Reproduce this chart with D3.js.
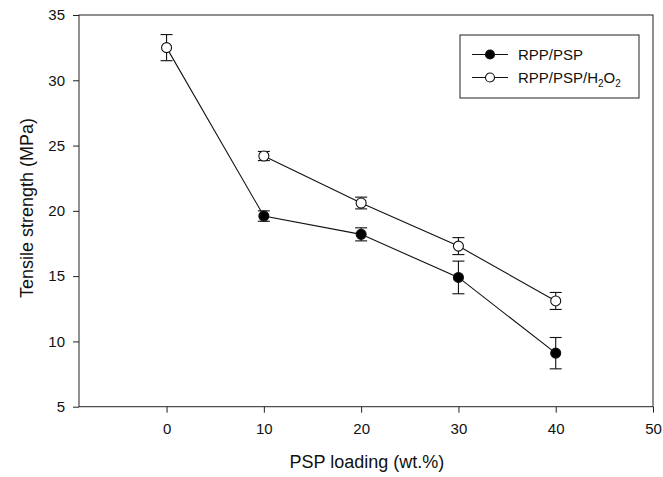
<!DOCTYPE html>
<html>
<head>
<meta charset="utf-8">
<script src="https://cdn.jsdelivr.net/npm/d3@7"></script>
<style>
  body { margin: 0; background: #fff; }
  svg text { font-family: "Liberation Sans", Arial, sans-serif; fill: #111; }
</style>
</head>
<body>
<svg id="chart" width="663" height="477"></svg>
<script>
// data
const loading = [0, 10, 20, 30, 40];
const rppPsp = [32.5, 19.6, 18.2, 14.9, 9.1];
const rppPspErr = [1.0, 0.4, 0.5, 1.25, 1.2];
// treated series starts at 10 wt.%, the 0 wt.% control is shared
const loadingH2O2 = [10, 20, 30, 40];
const rppPspH2O2 = [24.2, 20.6, 17.3, 13.1];
const rppPspH2O2Err = [0.35, 0.45, 0.65, 0.65];
const xTicks = [0, 10, 20, 30, 40, 50];
const yTicks = [5, 10, 15, 20, 25, 30, 35];

const margin = { top: 15, right: 10, bottom: 70, left: 79 };
const width = 663;
const height = 477;
const innerWidth = width - margin.left - margin.right;
const innerHeight = 406.7 - margin.top;

const xScale = d3.scaleLinear().domain([-9, 50]).range([0, innerWidth]);
const yScale = d3.scaleLinear().domain([5, 35]).range([innerHeight, 0]);

const svg = d3.select("#chart");
const g = svg.append("g").attr("transform", `translate(${margin.left},${margin.top})`);

// frame
g.append("rect")
  .attr("width", innerWidth)
  .attr("height", innerHeight)
  .attr("fill", "none")
  .attr("stroke", "#222")
  .attr("stroke-width", 1);

// X axis
const xAxis = g.append("g")
  .attr("transform", `translate(0,${innerHeight})`)
  .call(d3.axisBottom(xScale).tickValues(xTicks).tickSize(6).tickPadding(11).tickSizeOuter(0));
xAxis.select(".domain").remove();
xAxis.selectAll("line").attr("stroke", "#222");
xAxis.selectAll("text").attr("font-size", "15px");

// Y axis
const yAxis = g.append("g")
  .call(d3.axisLeft(yScale).tickValues(yTicks).tickSize(6).tickPadding(8).tickSizeOuter(0));
yAxis.select(".domain").remove();
yAxis.selectAll("line").attr("stroke", "#222");
yAxis.selectAll("text").attr("font-size", "15px");

// axis labels
g.append("text")
  .attr("x", xScale(20.6))
  .attr("y", innerHeight + 61)
  .attr("text-anchor", "middle")
  .attr("font-size", "18px")
  .text("PSP loading (wt.%)");

g.append("text")
  .attr("transform", "rotate(-90)")
  .attr("x", -193)
  .attr("y", -46)
  .attr("text-anchor", "middle")
  .attr("font-size", "18px")
  .text("Tensile strength (MPa)");

const line = d3.line()
  .x((d) => xScale(d.x))
  .y((d) => yScale(d.y));

const filled = loading.map((x, i) => ({ x: x, y: rppPsp[i], err: rppPspErr[i], color: "#000" }));
const open = loadingH2O2.map((x, i) => ({ x: x, y: rppPspH2O2[i], err: rppPspH2O2Err[i], color: "#fff" }));
// the shared control at 0 is drawn as an open circle
filled[0].color = "#fff";

function drawSeries(data) {
  const s = g.append("g");
  s.append("path")
    .attr("d", line(data))
    .attr("fill", "none")
    .attr("stroke", "#111")
    .attr("stroke-width", 1.1);

  const bars = s.selectAll(".err")
    .data(data)
    .enter()
    .append("g")
    .attr("class", "err")
    .attr("stroke", "#111")
    .attr("stroke-width", 1.1);
  bars.append("line")
    .attr("x1", (d) => xScale(d.x))
    .attr("x2", (d) => xScale(d.x))
    .attr("y1", (d) => yScale(d.y - d.err))
    .attr("y2", (d) => yScale(d.y + d.err));
  [-1, 1].forEach((sign) => {
    bars.append("line")
      .attr("x1", (d) => xScale(d.x) - 6)
      .attr("x2", (d) => xScale(d.x) + 6)
      .attr("y1", (d) => yScale(d.y + sign * d.err))
      .attr("y2", (d) => yScale(d.y + sign * d.err));
  });

  s.selectAll("circle")
    .data(data)
    .enter()
    .append("circle")
    .attr("cx", (d) => xScale(d.x))
    .attr("cy", (d) => yScale(d.y))
    .attr("r", 5)
    .attr("fill", (d) => d.color)
    .attr("stroke", "#111")
    .attr("stroke-width", 1.1);
}

drawSeries(filled);
drawSeries(open);

// legend
const legend = svg.append("g").attr("transform", "translate(460,35)");
legend.append("rect")
  .attr("width", 179)
  .attr("height", 63)
  .attr("fill", "#fff")
  .attr("stroke", "#222")
  .attr("stroke-width", 1);

const legendItems = [
  { color: "#000", y: 19.5 },
  { color: "#fff", y: 42.5 }
];
const items = legend.selectAll(".item")
  .data(legendItems)
  .enter()
  .append("g")
  .attr("class", "item")
  .attr("transform", (d) => `translate(0,${d.y})`);
items.append("line")
  .attr("x1", 12).attr("x2", 48)
  .attr("stroke", "#111").attr("stroke-width", 1.1);
items.append("circle")
  .attr("cx", 30).attr("r", 4.5)
  .attr("fill", (d) => d.color)
  .attr("stroke", "#111").attr("stroke-width", 1.1);

legend.append("text")
  .attr("x", 58).attr("y", 19.5).attr("dy", "0.36em")
  .attr("font-size", "15px")
  .text("RPP/PSP");

const t2 = legend.append("text")
  .attr("x", 58).attr("y", 42.5).attr("dy", "0.36em")
  .attr("font-size", "15px");
t2.append("tspan").text("RPP/PSP/H");
t2.append("tspan").attr("font-size", "10px").attr("dy", 4).text("2");
t2.append("tspan").attr("dy", -4).text("O");
t2.append("tspan").attr("font-size", "10px").attr("dy", 4).text("2");
</script>
</body>
</html>
